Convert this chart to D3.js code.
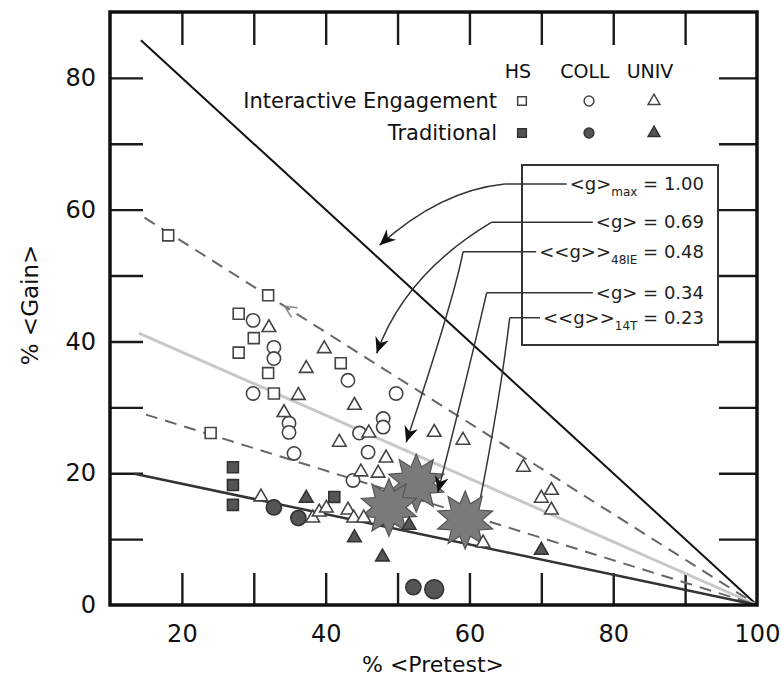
<!DOCTYPE html>
<html><head><meta charset="utf-8">
<script src="https://cdn.jsdelivr.net/npm/d3@7"></script>
<style>body{margin:0;background:#fff} svg{display:block} text{font-family:"DejaVu Sans",sans-serif}</style>
</head><body><svg id="c" width="782" height="681"></svg>
<script>
// ---------- data ----------
const xTicks=[20,30,40,50,60,70,80,90];
const xLabels=[20,40,60,80,100];
const yTicks=[10,20,30,40,50,60,70,80];
const yLabels=[0,20,40,60,80];
const gValues=[1.00,0.69,0.48,0.34,0.23];
const gStarts=[14.3,14.8,14.0,15.0,13.4];
const gLabelMain=["<g>","<g>","<<g>>","<g>","<<g>>"];
const gLabelSub=["max","","48IE","","14T"];
const gLabelVal=["1.00","0.69","0.48","0.34","0.23"];
const groupNames=["HS","COLL","UNIV"];
const rowNames=["Interactive Engagement","Traditional"];
const hsIE=[[18.1,56.1],[32.0,47.0],[27.9,44.2],[30.0,40.5],[27.9,38.3],[32.0,35.2],[32.8,32.1],[42.1,36.7],[24.0,26.1]];
const collIE=[[29.9,43.2],[32.8,39.1],[32.8,37.4],[29.9,32.1],[43.1,34.1],[49.8,32.1],[34.9,27.6],[34.9,26.2],[35.6,23.0],[48.0,28.3],[48.0,27.0],[44.7,26.1],[45.9,23.2],[43.8,18.9]];
const univIE=[[32.1,42.1],[39.8,38.9],[37.3,35.9],[36.2,31.8],[44.0,30.3],[34.2,29.2],[41.9,24.7],[46.0,26.1],[55.1,26.2],[59.1,25.0],[48.4,22.3],[44.9,20.2],[47.3,20.0],[67.5,20.9],[70.0,16.2],[71.4,17.4],[71.4,14.4],[31.0,16.4],[38.2,13.2],[39.1,14.1],[40.1,14.7],[43.1,14.4],[43.9,13.2],[45.3,13.2],[61.9,9.4]];
const hsTrad=[[27.1,20.9],[27.1,18.2],[27.1,15.2],[41.2,16.4]];
const collTrad=[[32.8,14.8],[36.2,13.2],[52.2,2.7],[55.1,2.4]];
const univTrad=[[37.3,16.2],[44.0,10.2],[47.9,7.3],[70.0,8.3],[51.6,12.1]];
const stars=[[52.6,18.5],[48.8,14.8],[59.4,12.9]];
// arrow annotations (data units): elbow, control, tip
const arrowElbow=[[64.9,63.9],[63.1,58.1],[59.1,53.6],[62.4,47.4],[65.6,43.6]];
const arrowCtrl=[[55.9,62.9],[51.0,50.2],[58.0,47.0],[60.1,36.4],[64.3,31.4]];
const arrowTip=[[47.5,54.6],[47.1,38.2],[51.2,24.7],[55.6,17.1],[61.2,14.4]];

// ---------- chart ----------
const svg=d3.select('#c');
const x=d3.scaleLinear().domain([10,100]).range([110,757]);
const y=d3.scaleLinear().domain([0,90]).range([605,12]);
const FONT='"DejaVu Sans", sans-serif';

svg.append('defs').append('marker').attr('id','ah').attr('viewBox','-16 -8 18 16')
  .attr('markerWidth',18).attr('markerHeight',16).attr('refX',0).attr('refY',0)
  .attr('markerUnits','userSpaceOnUse').attr('orient','auto')
  .append('path').attr('d','M0,0 L-16,-7 L-11,0 L-16,7 Z').attr('fill','#111');

function tickStyle(g){g.select('.domain').remove();g.selectAll('line').attr('stroke','#1a1a1a').attr('stroke-width',2.4);}
svg.append('g').attr('transform',`translate(0,${y(0)})`).call(d3.axisBottom(x).tickValues(xTicks).tickSizeInner(-32).tickSizeOuter(0).tickFormat('')).call(tickStyle);
svg.append('g').attr('transform',`translate(0,${y(90)})`).call(d3.axisTop(x).tickValues(xTicks).tickSizeInner(-33).tickSizeOuter(0).tickFormat('')).call(tickStyle);
svg.append('g').attr('transform',`translate(${x(10)},0)`).call(d3.axisLeft(y).tickValues(yTicks).tickSizeInner(-33).tickSizeOuter(0).tickFormat('')).call(tickStyle);
svg.append('g').attr('transform',`translate(${x(100)},0)`).call(d3.axisRight(y).tickValues(yTicks).tickSizeInner(-38).tickSizeOuter(0).tickFormat('')).call(tickStyle);

function labStyle(g){g.select('.domain').remove();g.attr('font-family',FONT).attr('font-size',24);g.selectAll('text').attr('fill','#111');}
svg.append('g').attr('transform',`translate(0,${y(0)})`).call(d3.axisBottom(x).tickValues(xLabels).tickSize(0).tickPadding(20)).call(labStyle);
svg.append('g').attr('transform',`translate(${x(10)},0)`).call(d3.axisLeft(y).tickValues(yLabels).tickSize(0).tickPadding(14)).call(labStyle);

svg.append('text').attr('x',433).attr('y',672).attr('text-anchor','middle').attr('font-size',22).attr('fill','#111').text('% <Pretest>');
svg.append('text').attr('transform','translate(38,305) rotate(-90)').attr('text-anchor','middle').attr('font-size',23).attr('fill','#111').text('% <Gain>');

// g lines
const lineStyles=[
 {stroke:'#111',w:2,dash:null},
 {stroke:'#666',w:2,dash:'12,8'},
 {stroke:'#c8c8c8',w:3,dash:null},
 {stroke:'#666',w:2,dash:'12,8'},
 {stroke:'#333',w:2.5,dash:null}];
const line=d3.line().x(d=>x(d[0])).y(d=>y(d[1]));
gValues.forEach((g,i)=>{
  const s=gStarts[i];
  svg.append('path').attr('d',line([[s,g*(100-s)],[100,0]])).attr('fill','none')
    .attr('stroke',lineStyles[i].stroke).attr('stroke-width',lineStyles[i].w)
    .attr('stroke-dasharray',lineStyles[i].dash);
});
// small open chevron on g=0.69 line
(function(){
  const cx=34.3, g=0.69; const px=x(cx), py=y(g*(100-cx));
  const ang=Math.atan2(y(0)-y(g*(100-cx)), x(100)-px);
  const L=13, a=0.45;
  const p1=[px+L*Math.cos(ang+a),py+L*Math.sin(ang+a)], p2=[px+L*Math.cos(ang-a),py+L*Math.sin(ang-a)];
  svg.append('path').attr('d',`M${p1}L${px},${py}L${p2}`).attr('fill','none').attr('stroke','#888').attr('stroke-width',1.6);
})();

function arrowPath(i){return `M${x(arrowElbow[i][0])},${y(arrowElbow[i][1])}Q${x(arrowCtrl[i][0])},${y(arrowCtrl[i][1])} ${x(arrowTip[i][0])},${y(arrowTip[i][1])}`;}
svg.append('path').attr('d',arrowPath(4)).attr('fill','none').attr('stroke','#333').attr('stroke-width',1.5);

// stars
function starPath(R,r,n){const pts=[];for(let k=0;k<2*n;k++){const rad=k%2?r:R;const a=-Math.PI/2+k*Math.PI/n;pts.push([rad*Math.cos(a),rad*Math.sin(a)]);}return 'M'+pts.join('L')+'Z';}
svg.selectAll('.star').data(stars).join('path').attr('class','star')
  .attr('transform',d=>`translate(${x(d[0])},${y(d[1])})`).attr('d',starPath(29,17,10))
  .attr('fill','#7a7a7a').attr('stroke','#555').attr('stroke-width',1.2);

// markers
function sym(type,size){return d3.symbol().type(type).size(size)();}
function plot(data,type,size,filled){
  svg.append('g').selectAll('path').data(data).join('path')
    .attr('transform',d=>`translate(${x(d[0])},${y(d[1])})`).attr('d',(d,i)=>typeof size==='function'?sym(type,size(i)):sym(type,size))
    .attr('fill',filled?'#555':'#fff').attr('stroke',filled?'#333':'#444').attr('stroke-width',1.6);
}
plot(hsIE,d3.symbolSquare,120,false);
plot(collIE,d3.symbolCircle,140,false);
plot(univIE,d3.symbolTriangle,80,false);
plot(hsTrad,d3.symbolSquare,120,true);
plot(collTrad,d3.symbolCircle,i=>i===3?280:180,true);
plot(univTrad,d3.symbolTriangle,80,true);

// legend (top)
const colX=[518,585,650];
groupNames.forEach((n,i)=>svg.append('text').attr('x',colX[i]).attr('y',78).attr('text-anchor','middle').attr('font-size',19).attr('fill','#111').text(n));
const rowY=[101,133];
rowNames.forEach((n,i)=>svg.append('text').attr('x',497).attr('y',rowY[i]+7).attr('text-anchor','end').attr('font-size',21).attr('fill','#111').text(n));
const legTypes=[d3.symbolSquare,d3.symbolCircle,d3.symbolTriangle];
rowY.forEach((ry,r)=>legTypes.forEach((t,c)=>{
  svg.append('path').attr('transform',`translate(${colX[c]+4},${ry})`).attr('d',sym(t,t===d3.symbolTriangle?60:75))
   .attr('fill',r?'#555':'#fff').attr('stroke',r?'#333':'#444').attr('stroke-width',1.5);
}));

// g legend box
svg.append('rect').attr('x',522).attr('y',165).attr('width',196).attr('height',180).attr('fill','none').attr('stroke','#333').attr('stroke-width',2);
gValues.forEach((g,i)=>{
  const ly=y(arrowElbow[i][1]);
  const t=svg.append('text').attr('x',704).attr('y',ly+6).attr('text-anchor','end').attr('font-size',18).attr('fill','#222');
  t.append('tspan').text(gLabelMain[i]);
  if(gLabelSub[i]){t.append('tspan').attr('font-size',12).attr('dy',6).text(gLabelSub[i]);t.append('tspan').attr('dy',-6).text(' = '+gLabelVal[i]);}
  else t.append('tspan').text(' = '+gLabelVal[i]);
  const bb=t.node().getBBox();
  svg.append('line').attr('x1',x(arrowElbow[i][0])).attr('x2',bb.x-3).attr('y1',ly).attr('y2',ly).attr('stroke','#333').attr('stroke-width',1.5);
});
[0,1,2,3].forEach(i=>{
  svg.append('path').attr('d',arrowPath(i)).attr('fill','none').attr('stroke','#333').attr('stroke-width',1.5).attr('marker-end','url(#ah)');
});

// frame
svg.append('rect').attr('x',x(10)).attr('y',y(90)).attr('width',x(100)-x(10)).attr('height',y(0)-y(90)).attr('fill','none').attr('stroke','#111').attr('stroke-width',3.5);
</script></body></html>
